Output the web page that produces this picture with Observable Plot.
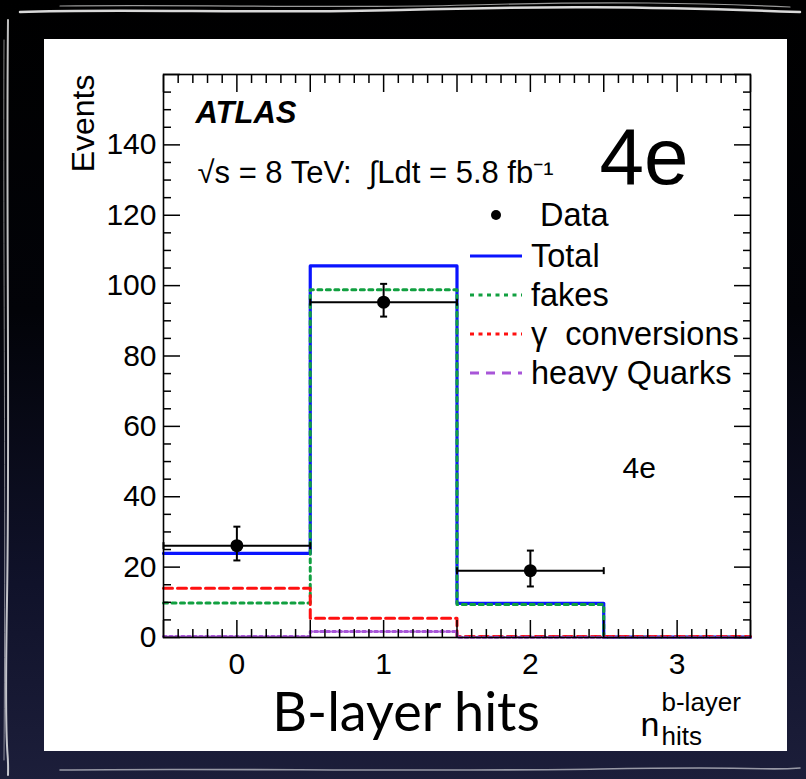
<!DOCTYPE html>
<html>
<head>
<meta charset="utf-8">
<script src="https://cdn.jsdelivr.net/npm/d3@7"></script>
<script src="https://cdn.jsdelivr.net/npm/@observablehq/plot@0.6"></script>
<style>
  html, body { margin: 0; padding: 0; }
  body {
    width: 806px; height: 779px; overflow: hidden; position: relative;
    background: linear-gradient(180deg, #000 0%, #020308 40%, #10122a 75%, #1c1e3a 100%);
    font-family: "Liberation Sans", Arial, Helvetica, sans-serif;
  }
  #chalk { position: absolute; left: 0; top: 0; }
  #panel { position: absolute; left: 44px; top: 39px; width: 743px; height: 712px; background: #fff; }
  #panel svg { position: absolute; left: 0; top: 0; }
  .row { position: absolute; left: 426px; height: 40px; display: flex; align-items: center;
         font-size: 32.5px; color: #000; white-space: pre; }
  .row svg { position: static !important; margin-right: 9px; }
</style>
</head>
<body>
<svg id="chalk" width="806" height="779">
  <g fill="none" stroke="#fff" stroke-linecap="round">
    <path d="M20,12 C120,8 260,14 400,10 S640,6 800,12" stroke-width="2.5" opacity="0.85"/>
    <path d="M60,6 C200,4 330,9 470,5 S700,3 790,7" stroke-width="1.2" opacity="0.6"/>
    <path d="M8,20 C6,200 10,420 7,600 S9,740 8,775" stroke-width="2" opacity="0.75"/>
    <path d="M4,40 C3,250 6,480 4,760" stroke-width="1" opacity="0.5"/>
    <path d="M60,770 C220,768 420,772 600,769 S760,771 800,768" stroke-width="1.6" opacity="0.55"/>
  </g>
</svg>
<div id="panel"></div>
<script>
// Histogram bins (B-layer hit multiplicity)
const bins = [0, 1, 2, 3];
// Background components, events per bin
const total = [23.9, 105.6, 9.7, 0.1];
const fakes = [9.8, 98.8, 9.4, 0.1];
const conversions = [14.0, 5.5, 0.3, 0.3];
const heavyQuarks = [0.3, 1.7, 0.1, 0.1];
// Observed data with asymmetric errors
const dataBins = [0, 1, 2];
const dataCounts = [26.1, 95.3, 19.0];
const dataErrUp = [5.4, 5.2, 5.7];
const dataErrDown = [4.2, 4.1, 4.5];
// Axis labels
const yLabels = [0, 20, 40, 60, 80, 100, 120, 140];
const xLabels = [0, 1, 2, 3];

const legendItems = [
  {label: " Data", kind: "dot", color: "#000"},
  {label: "Total", kind: "line", color: "#0a14ff", dash: null},
  {label: "fakes", kind: "line", color: "#11a040", dash: "4,4.5"},
  {label: "γ  conversions", kind: "line", color: "#ff1010", dash: "4,4.5"},
  {label: "heavy Quarks", kind: "line", color: "#a855d8", dash: "9,7"}
];

const xMin = bins[0] - 0.5, xMax = bins[bins.length - 1] + 0.5;
const edges = bins.map(b => b - 0.5).concat([xMax]);
const stepTable = values => edges.map((x, i) => ({x, y: values[Math.min(i, values.length - 1)]}));

const points = dataBins.map((b, i) => ({
  x: b, y: dataCounts[i],
  lo: dataCounts[i] - dataErrDown[i], hi: dataCounts[i] + dataErrUp[i],
  x1: b - 0.5, x2: b + 0.5
}));

// Error-bar end caps as custom symbols
const capH = {draw(ctx, size) { const r = Math.sqrt(size / Math.PI); ctx.moveTo(-r, 0); ctx.lineTo(r, 0); }};
const capV = {draw(ctx, size) { const r = Math.sqrt(size / Math.PI); ctx.moveTo(0, -r); ctx.lineTo(0, r); }};

// Tick positions (inward ticks on all four sides)
const yMajor = d3.range(0, 161, 20);
const yMinor = d3.range(0, 161, 5).filter(v => v % 20 !== 0);
const xMajor = d3.range(xMin, xMax + 0.01, 0.5);
const xMinor = d3.range(0, 41, 1).map(k => xMin + k / 10).filter((v, k) => k % 5 !== 0);

const font = "'Liberation Sans', Arial, Helvetica, sans-serif";

const chart = Plot.plot({
  width: 743, height: 712,
  marginLeft: 119, marginRight: 37, marginTop: 35, marginBottom: 114,
  x: {domain: [xMin, xMax]},
  y: {domain: [0, 160]},
  style: {fontFamily: font, color: "#000", background: "transparent", overflow: "visible"},
  marks: [
    Plot.line(stepTable(total), {x: "x", y: "y", curve: "step-after", stroke: "#0a14ff", strokeWidth: 3.2}),
    Plot.line(stepTable(fakes), {x: "x", y: "y", curve: "step-after", stroke: "#11a040", strokeWidth: 3, strokeDasharray: "4,4.5"}),
    Plot.line(stepTable(conversions), {x: "x", y: "y", curve: "step-after", stroke: "#ff1010", strokeWidth: 3, strokeDasharray: "9,5"}),
    Plot.line(stepTable(heavyQuarks), {x: "x", y: "y", curve: "step-after", stroke: "#a855d8", strokeWidth: 3, strokeDasharray: "3,3"}),

    Plot.ruleY(points, {y: "y", x1: "x1", x2: "x2", stroke: "#000", strokeWidth: 2}),
    Plot.ruleX(points, {x: "x", y1: "lo", y2: "hi", stroke: "#000", strokeWidth: 2}),
    Plot.dot(points, {x: "x", y: "lo", symbol: capH, r: 3.5, stroke: "#000", strokeWidth: 2}),
    Plot.dot(points, {x: "x", y: "hi", symbol: capH, r: 3.5, stroke: "#000", strokeWidth: 2}),
    Plot.dot(points, {x: "x1", y: "y", symbol: capV, r: 3.5, stroke: "#000", strokeWidth: 2}),
    Plot.dot(points, {x: "x2", y: "y", symbol: capV, r: 3.5, stroke: "#000", strokeWidth: 2}),
    Plot.dot(points, {x: "x", y: "y", r: 6.5, fill: "#000", stroke: "none"}),

    Plot.axisY(yMinor, {anchor: "left", tickSize: -8, fill: "none", strokeWidth: 1.5}),
    Plot.axisY(yMajor, {anchor: "left", tickSize: -17, fill: "none", strokeWidth: 1.5}),
    Plot.axisY(yMinor, {anchor: "right", tickSize: -8, fill: "none", strokeWidth: 1.5}),
    Plot.axisY(yMajor, {anchor: "right", tickSize: -17, fill: "none", strokeWidth: 1.5}),
    Plot.axisY(yLabels, {anchor: "left", tickSize: 0, tickPadding: 7, fontSize: 30, label: null, tickFormat: d3.format("d")}),
    Plot.axisX(xMinor, {anchor: "bottom", tickSize: -8, fill: "none", strokeWidth: 1.5}),
    Plot.axisX(xMajor, {anchor: "bottom", tickSize: -17, fill: "none", strokeWidth: 1.5}),
    Plot.axisX(xMinor, {anchor: "top", tickSize: -8, fill: "none", strokeWidth: 1.5}),
    Plot.axisX(xMajor, {anchor: "top", tickSize: -17, fill: "none", strokeWidth: 1.5}),
    Plot.axisX(xLabels, {anchor: "bottom", tickSize: 0, tickPadding: 15, fontSize: 30, label: null, tickFormat: d3.format("d")}),
    Plot.frame({stroke: "#000", strokeWidth: 1.6}),

    Plot.text(["Events"], {frameAnchor: "top-left", rotate: -90, textAnchor: "end", lineAnchor: "bottom", dx: -70, dy: 0, fontSize: 32}),
    Plot.text(["ATLAS"], {frameAnchor: "top-left", textAnchor: "start", lineAnchor: "bottom", dx: 32, dy: 48, fontSize: 31, fontWeight: "bold", fontStyle: "italic"}),
    Plot.text(["√s = 8 TeV:  ∫Ldt = 5.8 fb⁻¹"], {frameAnchor: "top-left", textAnchor: "start", lineAnchor: "bottom", dx: 34, dy: 108, fontSize: 31}),
    Plot.text(["4e"], {frameAnchor: "top-left", textAnchor: "start", lineAnchor: "bottom", dx: 436, dy: 109, fontSize: 80}),
    Plot.text(["4e"], {frameAnchor: "top-left", textAnchor: "start", lineAnchor: "bottom", dx: 459, dy: 403, fontSize: 30}),
    Plot.text(["B-layer hits"], {frameAnchor: "bottom", textAnchor: "middle", lineAnchor: "bottom", dx: -51, dy: 93, fontSize: 54, fontFamily: "Lato, 'Open Sans', sans-serif"}),
    Plot.text(["n"], {frameAnchor: "bottom-left", textAnchor: "start", lineAnchor: "bottom", dx: 477, dy: 98, fontSize: 34}),
    Plot.text(["b-layer"], {frameAnchor: "bottom-left", textAnchor: "start", lineAnchor: "bottom", dx: 498, dy: 73, fontSize: 26}),
    Plot.text(["hits"], {frameAnchor: "bottom-left", textAnchor: "start", lineAnchor: "bottom", dx: 498, dy: 107, fontSize: 26})
  ]
});

const panel = document.getElementById("panel");
panel.appendChild(chart);

// Legend drawn over the plot area
const rowCenters = [176, 217, 256, 295, 334];
legendItems.forEach((item, i) => {
  const row = document.createElement("div");
  row.className = "row";
  row.style.top = (rowCenters[i] - 20) + "px";
  const sw = d3.create("svg").attr("width", 52).attr("height", 12);
  if (item.kind === "dot") {
    sw.append("circle").attr("cx", 26).attr("cy", 6).attr("r", 5).attr("fill", item.color);
  } else {
    sw.append("line").attr("x1", 0).attr("x2", 52).attr("y1", 6).attr("y2", 6)
      .attr("stroke", item.color).attr("stroke-width", 3.2)
      .attr("stroke-dasharray", item.dash);
  }
  row.appendChild(sw.node());
  const t = document.createElement("span");
  t.textContent = item.label;
  row.appendChild(t);
  panel.appendChild(row);
});
</script>
</body>
</html>
